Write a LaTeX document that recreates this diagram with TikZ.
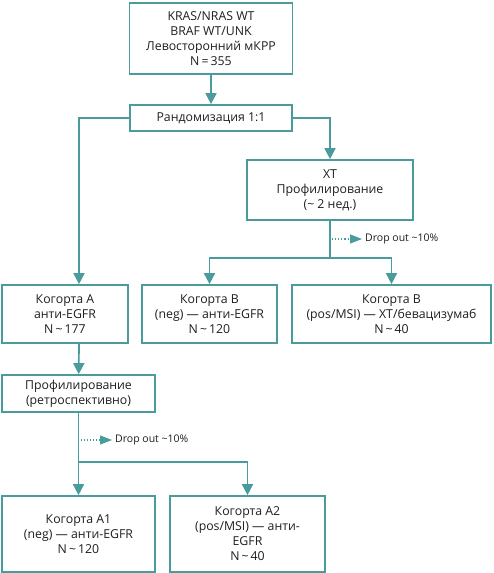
\documentclass[tikz,border=0pt]{standalone}
\usepackage{fontspec}
\setmainfont{Open Sans}
\usetikzlibrary{positioning,arrows.meta}
\definecolor{tealline}{HTML}{4A9C9C}
\definecolor{txtgray}{HTML}{1E1E1E}

\begin{document}
\begin{tikzpicture}[x=1pt, y=-1pt, font=\fontsize{12.3}{15}\selectfont, text=txtgray,
                    box/.style={draw=tealline, line width=1.7pt, align=center, inner sep=2pt},
                    link/.style={draw=tealline, line width=1.7pt},
                    arr/.style={link, -{Triangle[length=11pt, width=11pt]}},
                    drop/.style={draw=tealline, line width=1.1pt, dotted, -{Triangle[length=12pt, width=9pt]}},
                    droplbl/.style={anchor=west, font=\fontsize{10.5}{12}\selectfont, inner sep=0pt}]
  \useasboundingbox (0,0) rectangle (493,573);
  % boxes
  \node[box, minimum width=163pt, minimum height=71pt] (top) at (211,38.5)
    {KRAS/NRAS WT\\BRAF WT/UNK\\Левосторонний мКРР\\N\,=\,355};
  \node[box, minimum width=162pt, minimum height=26pt] (rand) at (211,118) {Рандомизация 1:1};
  \node[box, minimum width=166pt, minimum height=60pt] (xt) at (330,190)
    {ХТ\\Профилирование\\(\textasciitilde\ 2 нед.)};
  \node[box, minimum width=126pt, minimum height=58pt] (cohA) at (65,314)
    {Когорта А\\анти-EGFR\\N\,\textasciitilde\,177};
  \node[box, minimum width=135pt, minimum height=58pt] (cohBneg) at (209.5,314)
    {Когорта В\\(neg) — анти-EGFR\\N\,\textasciitilde\,120};
  \node[box, minimum width=199pt, minimum height=58pt] (cohBpos) at (391.5,314)
    {Когорта В\\(pos/MSI) — ХТ/бевацизумаб\\N\,\textasciitilde\,40};
  \node[box, minimum width=153pt, minimum height=37pt] (prof) at (78.5,393.5)
    {Профилирование\\(ретроспективно)};
  \node[box, minimum width=153pt, minimum height=76pt] (cohAone) at (78.5,534)
    {Когорта А1\\(neg) — анти-EGFR\\N\,\textasciitilde\,120};
  \node[box, minimum width=155pt, minimum height=76pt] (cohAtwo) at (247.5,534)
    {Когорта А2\\(pos/MSI) — анти-\\EGFR\\N\,\textasciitilde\,40};
  % split points
  \coordinate (colA) at (79,0);
  \coordinate (splitB) at (330,258);
  \coordinate (splitA) at (78.5,462);
  \coordinate (dropB) at (332,239);
  \coordinate (dropA) at (80.5,440);
  % connectors
  \draw[arr] (top) -- (rand);
  \draw[arr] (rand.west) -| (colA |- cohA.north);
  \draw[arr] (rand.east) -| (xt.north);
  \draw[link] (xt.south) -- (splitB);
  \draw[arr] (splitB) -| (cohBneg.north);
  \draw[arr] (splitB) -| (cohBpos.north);
  \draw[arr] (colA |- cohA.south) -- (prof);
  \draw[link] (prof.south) -- (splitA);
  \draw[arr] (splitA) -- (cohAone.north);
  \draw[arr] (splitA) -| (cohAtwo.north);
  % drop out
  \node[droplbl] (dropBlbl) at (365,239) {Drop out \textasciitilde10\%};
  \node[droplbl] (dropAlbl) at (115,440) {Drop out \textasciitilde10\%};
  \draw[drop] (dropB) -- ([xshift=-3pt]dropBlbl.west);
  \draw[drop] (dropA) -- ([xshift=-3pt]dropAlbl.west);
\end{tikzpicture}
\end{document}
